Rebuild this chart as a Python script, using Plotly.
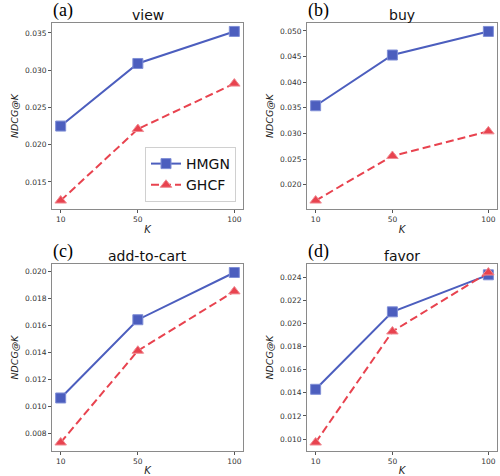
import plotly.graph_objects as go

W, H = 500, 476

K_values = [10, 50, 100]
panel_titles = ["view", "buy", "add-to-cart", "favor"]
panel_labels = ["(a)", "(b)", "(c)", "(d)"]

hmgn_view = [0.0225, 0.0309, 0.0352]
ghcf_view = [0.0125, 0.0221, 0.0282]
hmgn_buy = [0.0354, 0.0453, 0.0499]
ghcf_buy = [0.0169, 0.0256, 0.0304]
hmgn_cart = [0.0106, 0.0164, 0.0199]
ghcf_cart = [0.0073, 0.0141, 0.0185]
hmgn_favor = [0.0143, 0.0210, 0.0242]
ghcf_favor = [0.0097, 0.0193, 0.0244]

ytick_sets = [
    [0.015, 0.020, 0.025, 0.030, 0.035],
    [0.020, 0.025, 0.030, 0.035, 0.040, 0.045, 0.050],
    [0.008, 0.010, 0.012, 0.014, 0.016, 0.018, 0.020],
    [0.010, 0.012, 0.014, 0.016, 0.018, 0.020, 0.022, 0.024],
]

hmgn_all = [hmgn_view, hmgn_buy, hmgn_cart, hmgn_favor]
ghcf_all = [ghcf_view, ghcf_buy, ghcf_cart, ghcf_favor]

BLUE = "#4C5EBE"
RED = "#E8434F"

# pixel boxes of the four axes: (left, right, top, bottom)
boxes = [
    (52, 243, 23, 209),
    (307, 497, 23, 209),
    (52, 243, 264, 451),
    (307, 497, 264, 451),
]


def px_x(p):
    return p / W


def px_y(p):
    return 1 - p / H


def padded(vals, frac=0.05):
    lo, hi = min(vals), max(vals)
    d = (hi - lo) * frac
    return [lo - d, hi + d]


fig = go.Figure()
annotations = []
for i in range(4):
    n = "" if i == 0 else str(i + 1)
    xa, ya = "x" + n, "y" + n
    l, r, t, b = boxes[i]
    fig.add_trace(go.Scatter(
        x=K_values, y=hmgn_all[i], xaxis=xa, yaxis=ya, name="HMGN",
        mode="lines+markers", showlegend=(i == 0),
        line=dict(color=BLUE, width=2),
        marker=dict(symbol="square", size=10, color=BLUE,
                    line=dict(color="#7F8ED6", width=1)),
    ))
    fig.add_trace(go.Scatter(
        x=K_values, y=ghcf_all[i], xaxis=xa, yaxis=ya, name="GHCF",
        mode="lines+markers", showlegend=(i == 0),
        line=dict(color=RED, width=2, dash="8px,4px"),
        marker=dict(symbol="triangle-up", size=10, color=RED,
                    line=dict(color="#F08A92", width=1)),
    ))
    axis_common = dict(
        showgrid=False, zeroline=False, showline=True, mirror=True,
        linecolor="#8A8A8A", linewidth=1, ticks="outside", ticklen=3,
        tickcolor="#555555", tickfont=dict(family="DejaVu Sans", size=7.5, color="#333333"),
    )
    fig.layout["xaxis" + n] = dict(
        axis_common, domain=[px_x(l), px_x(r)], anchor=ya,
        range=padded(K_values), tickvals=K_values,
        ticktext=[str(k) for k in K_values],
        title=dict(text="<i>K</i>", standoff=2,
                   font=dict(family="DejaVu Sans", size=10, color="#222222")),
    )
    allv = hmgn_all[i] + ghcf_all[i]
    fig.layout["yaxis" + n] = dict(
        axis_common, domain=[px_y(b), px_y(t)], anchor=xa,
        range=padded(allv), tickvals=ytick_sets[i],
        ticktext=["%.3f" % v for v in ytick_sets[i]],
        title=dict(text="<i>NDCG@K</i>", standoff=4,
                   font=dict(family="DejaVu Sans", size=9.5, color="#222222")),
    )
    annotations.append(dict(
        text=panel_titles[i], x=px_x((l + r) / 2), y=px_y(t - 8),
        xref="paper", yref="paper", xanchor="center", yanchor="middle",
        showarrow=False, font=dict(family="DejaVu Sans", size=14, color="#111111"),
    ))
    annotations.append(dict(
        text=panel_labels[i], x=px_x(l - 1), y=px_y(t - 13),
        xref="paper", yref="paper", xanchor="left", yanchor="middle",
        showarrow=False, font=dict(family="Liberation Serif", size=18, color="#000000"),
    ))

fig.update_layout(
    width=W, height=H, margin=dict(l=0, r=0, t=0, b=0),
    paper_bgcolor="white", plot_bgcolor="white",
    annotations=annotations,
    legend=dict(
        x=px_x(236), y=px_y(202), xanchor="right", yanchor="bottom",
        bgcolor="white", bordercolor="#D0D0D0", borderwidth=1,
        font=dict(family="DejaVu Sans", size=14, color="#111111"),
        tracegroupgap=0, itemwidth=30,
    ),
)

fig.write_html("out.html", config={"displayModeBar": False},
               post_script="document.body.style.margin='0';")
